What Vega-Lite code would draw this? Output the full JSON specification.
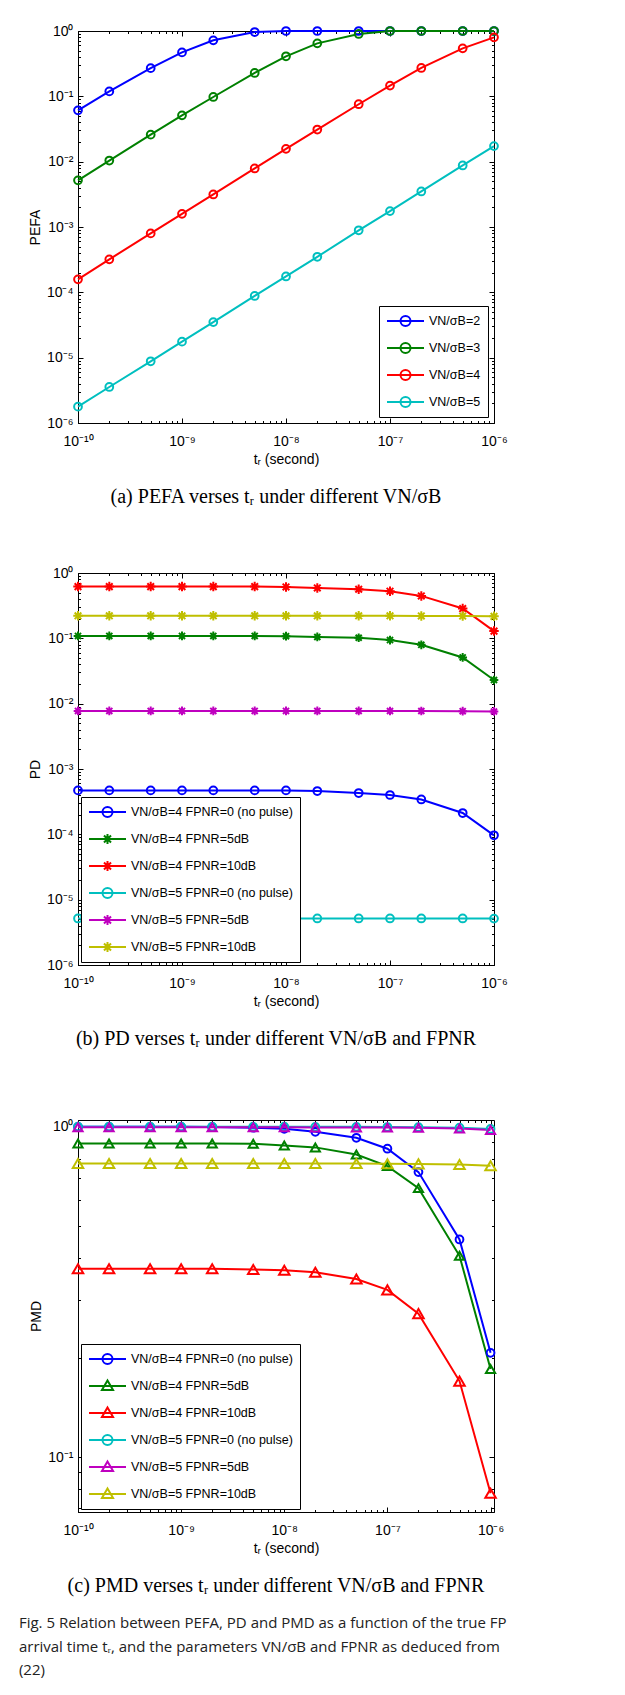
{
"$schema": "https://vega.github.io/schema/vega-lite/v6.json",
"padding": {"left": 18, "top": 22, "right": 5, "bottom": 5},
"spacing": 57,
"resolve": {"scale": {"x": "independent", "y": "independent", "color": "independent", "shape": "independent", "size": "independent"}},
"title": {"text": ["Fig. 5 Relation between PEFA, PD and PMD as a function of the true FP", "arrival time tᵣ, and the parameters VN/σB and FPNR as deduced from", "(22)"], "orient": "bottom", "anchor": "start", "frame": "bounds", "dx": -9, "offset": 19.5, "font": "Open Sans", "fontSize": 15, "fontWeight": "normal", "lineHeight": 23.5, "color": "#222222"},
"datasets": {
"a": [
{"t":1e-10,"p":0.061,"series":"VN/σB=2"},{"t":2e-10,"p":0.119,"series":"VN/σB=2"},{"t":5e-10,"p":0.27,"series":"VN/σB=2"},{"t":1e-9,"p":0.47,"series":"VN/σB=2"},{"t":2e-9,"p":0.72,"series":"VN/σB=2"},{"t":5e-9,"p":0.965,"series":"VN/σB=2"},{"t":1e-8,"p":1,"series":"VN/σB=2"},{"t":2e-8,"p":1,"series":"VN/σB=2"},{"t":5e-8,"p":1,"series":"VN/σB=2"},{"t":1e-7,"p":1,"series":"VN/σB=2"},{"t":2e-7,"p":1,"series":"VN/σB=2"},{"t":5e-7,"p":1,"series":"VN/σB=2"},{"t":1e-6,"p":1,"series":"VN/σB=2"},
{"t":1e-10,"p":0.00518,"series":"VN/σB=3"},{"t":2e-10,"p":0.0104,"series":"VN/σB=3"},{"t":5e-10,"p":0.0259,"series":"VN/σB=3"},{"t":1e-9,"p":0.0512,"series":"VN/σB=3"},{"t":2e-9,"p":0.0977,"series":"VN/σB=3"},{"t":5e-9,"p":0.228,"series":"VN/σB=3"},{"t":1e-8,"p":0.41,"series":"VN/σB=3"},{"t":2e-8,"p":0.647,"series":"VN/σB=3"},{"t":5e-8,"p":0.9,"series":"VN/σB=3"},{"t":1e-7,"p":1,"series":"VN/σB=3"},{"t":2e-7,"p":1,"series":"VN/σB=3"},{"t":5e-7,"p":1,"series":"VN/σB=3"},{"t":1e-6,"p":1,"series":"VN/σB=3"},
{"t":1e-10,"p":0.000158,"series":"VN/σB=4"},{"t":2e-10,"p":0.00032,"series":"VN/σB=4"},{"t":5e-10,"p":0.000798,"series":"VN/σB=4"},{"t":1e-9,"p":0.00159,"series":"VN/σB=4"},{"t":2e-9,"p":0.00315,"series":"VN/σB=4"},{"t":5e-9,"p":0.00787,"series":"VN/σB=4"},{"t":1e-8,"p":0.0157,"series":"VN/σB=4"},{"t":2e-8,"p":0.031,"series":"VN/σB=4"},{"t":5e-8,"p":0.0757,"series":"VN/σB=4"},{"t":1e-7,"p":0.146,"series":"VN/σB=4"},{"t":2e-7,"p":0.272,"series":"VN/σB=4"},{"t":5e-7,"p":0.543,"series":"VN/σB=4"},{"t":1e-6,"p":0.8,"series":"VN/σB=4"},
{"t":1e-10,"p":1.78e-6,"series":"VN/σB=5"},{"t":2e-10,"p":3.56e-6,"series":"VN/σB=5"},{"t":5e-10,"p":8.8e-6,"series":"VN/σB=5"},{"t":1e-9,"p":1.76e-5,"series":"VN/σB=5"},{"t":2e-9,"p":3.5e-5,"series":"VN/σB=5"},{"t":5e-9,"p":8.8e-5,"series":"VN/σB=5"},{"t":1e-8,"p":0.000175,"series":"VN/σB=5"},{"t":2e-8,"p":0.00035,"series":"VN/σB=5"},{"t":5e-8,"p":0.00089,"series":"VN/σB=5"},{"t":1e-7,"p":0.00175,"series":"VN/σB=5"},{"t":2e-7,"p":0.0035,"series":"VN/σB=5"},{"t":5e-7,"p":0.00875,"series":"VN/σB=5"},{"t":1e-6,"p":0.0173,"series":"VN/σB=5"}
],
"b": [
{"t":1e-10,"p":0.00047,"series":"VN/σB=4 FPNR=0 (no pulse)","fpnr":"0"},{"t":2e-10,"p":0.00047,"series":"VN/σB=4 FPNR=0 (no pulse)","fpnr":"0"},{"t":5e-10,"p":0.00047,"series":"VN/σB=4 FPNR=0 (no pulse)","fpnr":"0"},{"t":1e-9,"p":0.00047,"series":"VN/σB=4 FPNR=0 (no pulse)","fpnr":"0"},{"t":2e-9,"p":0.00047,"series":"VN/σB=4 FPNR=0 (no pulse)","fpnr":"0"},{"t":5e-9,"p":0.00047,"series":"VN/σB=4 FPNR=0 (no pulse)","fpnr":"0"},{"t":1e-8,"p":0.00047,"series":"VN/σB=4 FPNR=0 (no pulse)","fpnr":"0"},{"t":2e-8,"p":0.00046,"series":"VN/σB=4 FPNR=0 (no pulse)","fpnr":"0"},{"t":5e-8,"p":0.000429,"series":"VN/σB=4 FPNR=0 (no pulse)","fpnr":"0"},{"t":1e-7,"p":0.0004,"series":"VN/σB=4 FPNR=0 (no pulse)","fpnr":"0"},{"t":2e-7,"p":0.000342,"series":"VN/σB=4 FPNR=0 (no pulse)","fpnr":"0"},{"t":5e-7,"p":0.000212,"series":"VN/σB=4 FPNR=0 (no pulse)","fpnr":"0"},{"t":1e-6,"p":9.66e-5,"series":"VN/σB=4 FPNR=0 (no pulse)","fpnr":"0"},
{"t":1e-10,"p":0.109,"series":"VN/σB=4 FPNR=5dB","fpnr":"5dB"},{"t":2e-10,"p":0.109,"series":"VN/σB=4 FPNR=5dB","fpnr":"5dB"},{"t":5e-10,"p":0.109,"series":"VN/σB=4 FPNR=5dB","fpnr":"5dB"},{"t":1e-9,"p":0.109,"series":"VN/σB=4 FPNR=5dB","fpnr":"5dB"},{"t":2e-9,"p":0.109,"series":"VN/σB=4 FPNR=5dB","fpnr":"5dB"},{"t":5e-9,"p":0.109,"series":"VN/σB=4 FPNR=5dB","fpnr":"5dB"},{"t":1e-8,"p":0.108,"series":"VN/σB=4 FPNR=5dB","fpnr":"5dB"},{"t":2e-8,"p":0.105,"series":"VN/σB=4 FPNR=5dB","fpnr":"5dB"},{"t":5e-8,"p":0.102,"series":"VN/σB=4 FPNR=5dB","fpnr":"5dB"},{"t":1e-7,"p":0.094,"series":"VN/σB=4 FPNR=5dB","fpnr":"5dB"},{"t":2e-7,"p":0.0796,"series":"VN/σB=4 FPNR=5dB","fpnr":"5dB"},{"t":5e-7,"p":0.051,"series":"VN/σB=4 FPNR=5dB","fpnr":"5dB"},{"t":1e-6,"p":0.023,"series":"VN/σB=4 FPNR=5dB","fpnr":"5dB"},
{"t":1e-10,"p":0.619,"series":"VN/σB=4 FPNR=10dB","fpnr":"10dB"},{"t":2e-10,"p":0.619,"series":"VN/σB=4 FPNR=10dB","fpnr":"10dB"},{"t":5e-10,"p":0.619,"series":"VN/σB=4 FPNR=10dB","fpnr":"10dB"},{"t":1e-9,"p":0.619,"series":"VN/σB=4 FPNR=10dB","fpnr":"10dB"},{"t":2e-9,"p":0.619,"series":"VN/σB=4 FPNR=10dB","fpnr":"10dB"},{"t":5e-9,"p":0.619,"series":"VN/σB=4 FPNR=10dB","fpnr":"10dB"},{"t":1e-8,"p":0.611,"series":"VN/σB=4 FPNR=10dB","fpnr":"10dB"},{"t":2e-8,"p":0.59,"series":"VN/σB=4 FPNR=10dB","fpnr":"10dB"},{"t":5e-8,"p":0.564,"series":"VN/σB=4 FPNR=10dB","fpnr":"10dB"},{"t":1e-7,"p":0.526,"series":"VN/σB=4 FPNR=10dB","fpnr":"10dB"},{"t":2e-7,"p":0.446,"series":"VN/σB=4 FPNR=10dB","fpnr":"10dB"},{"t":5e-7,"p":0.286,"series":"VN/σB=4 FPNR=10dB","fpnr":"10dB"},{"t":1e-6,"p":0.129,"series":"VN/σB=4 FPNR=10dB","fpnr":"10dB"},
{"t":1e-10,"p":5.16e-6,"series":"VN/σB=5 FPNR=0 (no pulse)","fpnr":"0"},{"t":2e-10,"p":5.16e-6,"series":"VN/σB=5 FPNR=0 (no pulse)","fpnr":"0"},{"t":5e-10,"p":5.16e-6,"series":"VN/σB=5 FPNR=0 (no pulse)","fpnr":"0"},{"t":1e-9,"p":5.16e-6,"series":"VN/σB=5 FPNR=0 (no pulse)","fpnr":"0"},{"t":2e-9,"p":5.16e-6,"series":"VN/σB=5 FPNR=0 (no pulse)","fpnr":"0"},{"t":5e-9,"p":5.16e-6,"series":"VN/σB=5 FPNR=0 (no pulse)","fpnr":"0"},{"t":1e-8,"p":5.16e-6,"series":"VN/σB=5 FPNR=0 (no pulse)","fpnr":"0"},{"t":2e-8,"p":5.16e-6,"series":"VN/σB=5 FPNR=0 (no pulse)","fpnr":"0"},{"t":5e-8,"p":5.16e-6,"series":"VN/σB=5 FPNR=0 (no pulse)","fpnr":"0"},{"t":1e-7,"p":5.16e-6,"series":"VN/σB=5 FPNR=0 (no pulse)","fpnr":"0"},{"t":2e-7,"p":5.16e-6,"series":"VN/σB=5 FPNR=0 (no pulse)","fpnr":"0"},{"t":5e-7,"p":5.15e-6,"series":"VN/σB=5 FPNR=0 (no pulse)","fpnr":"0"},{"t":1e-6,"p":5.13e-6,"series":"VN/σB=5 FPNR=0 (no pulse)","fpnr":"0"},
{"t":1e-10,"p":0.00774,"series":"VN/σB=5 FPNR=5dB","fpnr":"5dB"},{"t":2e-10,"p":0.00774,"series":"VN/σB=5 FPNR=5dB","fpnr":"5dB"},{"t":5e-10,"p":0.00774,"series":"VN/σB=5 FPNR=5dB","fpnr":"5dB"},{"t":1e-9,"p":0.00774,"series":"VN/σB=5 FPNR=5dB","fpnr":"5dB"},{"t":2e-9,"p":0.00774,"series":"VN/σB=5 FPNR=5dB","fpnr":"5dB"},{"t":5e-9,"p":0.00774,"series":"VN/σB=5 FPNR=5dB","fpnr":"5dB"},{"t":1e-8,"p":0.00774,"series":"VN/σB=5 FPNR=5dB","fpnr":"5dB"},{"t":2e-8,"p":0.00774,"series":"VN/σB=5 FPNR=5dB","fpnr":"5dB"},{"t":5e-8,"p":0.00774,"series":"VN/σB=5 FPNR=5dB","fpnr":"5dB"},{"t":1e-7,"p":0.00773,"series":"VN/σB=5 FPNR=5dB","fpnr":"5dB"},{"t":2e-7,"p":0.00772,"series":"VN/σB=5 FPNR=5dB","fpnr":"5dB"},{"t":5e-7,"p":0.00768,"series":"VN/σB=5 FPNR=5dB","fpnr":"5dB"},{"t":1e-6,"p":0.0076,"series":"VN/σB=5 FPNR=5dB","fpnr":"5dB"},
{"t":1e-10,"p":0.221,"series":"VN/σB=5 FPNR=10dB","fpnr":"10dB"},{"t":2e-10,"p":0.221,"series":"VN/σB=5 FPNR=10dB","fpnr":"10dB"},{"t":5e-10,"p":0.221,"series":"VN/σB=5 FPNR=10dB","fpnr":"10dB"},{"t":1e-9,"p":0.221,"series":"VN/σB=5 FPNR=10dB","fpnr":"10dB"},{"t":2e-9,"p":0.221,"series":"VN/σB=5 FPNR=10dB","fpnr":"10dB"},{"t":5e-9,"p":0.221,"series":"VN/σB=5 FPNR=10dB","fpnr":"10dB"},{"t":1e-8,"p":0.221,"series":"VN/σB=5 FPNR=10dB","fpnr":"10dB"},{"t":2e-8,"p":0.221,"series":"VN/σB=5 FPNR=10dB","fpnr":"10dB"},{"t":5e-8,"p":0.221,"series":"VN/σB=5 FPNR=10dB","fpnr":"10dB"},{"t":1e-7,"p":0.221,"series":"VN/σB=5 FPNR=10dB","fpnr":"10dB"},{"t":2e-7,"p":0.22,"series":"VN/σB=5 FPNR=10dB","fpnr":"10dB"},{"t":5e-7,"p":0.219,"series":"VN/σB=5 FPNR=10dB","fpnr":"10dB"},{"t":1e-6,"p":0.217,"series":"VN/σB=5 FPNR=10dB","fpnr":"10dB"}
],
"c": [
{"t":1e-10,"p":0.999,"series":"VN/σB=4 FPNR=0 (no pulse)","fpnr":"0"},{"t":2e-10,"p":0.999,"series":"VN/σB=4 FPNR=0 (no pulse)","fpnr":"0"},{"t":5e-10,"p":0.999,"series":"VN/σB=4 FPNR=0 (no pulse)","fpnr":"0"},{"t":1e-9,"p":0.999,"series":"VN/σB=4 FPNR=0 (no pulse)","fpnr":"0"},{"t":2e-9,"p":0.998,"series":"VN/σB=4 FPNR=0 (no pulse)","fpnr":"0"},{"t":5e-9,"p":0.993,"series":"VN/σB=4 FPNR=0 (no pulse)","fpnr":"0"},{"t":1e-8,"p":0.986,"series":"VN/σB=4 FPNR=0 (no pulse)","fpnr":"0"},{"t":2e-8,"p":0.965,"series":"VN/σB=4 FPNR=0 (no pulse)","fpnr":"0"},{"t":5e-8,"p":0.926,"series":"VN/σB=4 FPNR=0 (no pulse)","fpnr":"0"},{"t":1e-7,"p":0.858,"series":"VN/σB=4 FPNR=0 (no pulse)","fpnr":"0"},{"t":2e-7,"p":0.729,"series":"VN/σB=4 FPNR=0 (no pulse)","fpnr":"0"},{"t":5e-7,"p":0.456,"series":"VN/σB=4 FPNR=0 (no pulse)","fpnr":"0"},{"t":1e-6,"p":0.207,"series":"VN/σB=4 FPNR=0 (no pulse)","fpnr":"0"},
{"t":1e-10,"p":0.89,"series":"VN/σB=4 FPNR=5dB","fpnr":"5dB"},{"t":2e-10,"p":0.89,"series":"VN/σB=4 FPNR=5dB","fpnr":"5dB"},{"t":5e-10,"p":0.89,"series":"VN/σB=4 FPNR=5dB","fpnr":"5dB"},{"t":1e-9,"p":0.89,"series":"VN/σB=4 FPNR=5dB","fpnr":"5dB"},{"t":2e-9,"p":0.89,"series":"VN/σB=4 FPNR=5dB","fpnr":"5dB"},{"t":5e-9,"p":0.888,"series":"VN/σB=4 FPNR=5dB","fpnr":"5dB"},{"t":1e-8,"p":0.878,"series":"VN/σB=4 FPNR=5dB","fpnr":"5dB"},{"t":2e-8,"p":0.866,"series":"VN/σB=4 FPNR=5dB","fpnr":"5dB"},{"t":5e-8,"p":0.824,"series":"VN/σB=4 FPNR=5dB","fpnr":"5dB"},{"t":1e-7,"p":0.76,"series":"VN/σB=4 FPNR=5dB","fpnr":"5dB"},{"t":2e-7,"p":0.652,"series":"VN/σB=4 FPNR=5dB","fpnr":"5dB"},{"t":5e-7,"p":0.407,"series":"VN/σB=4 FPNR=5dB","fpnr":"5dB"},{"t":1e-6,"p":0.185,"series":"VN/σB=4 FPNR=5dB","fpnr":"5dB"},
{"t":1e-10,"p":0.372,"series":"VN/σB=4 FPNR=10dB","fpnr":"10dB"},{"t":2e-10,"p":0.372,"series":"VN/σB=4 FPNR=10dB","fpnr":"10dB"},{"t":5e-10,"p":0.372,"series":"VN/σB=4 FPNR=10dB","fpnr":"10dB"},{"t":1e-9,"p":0.372,"series":"VN/σB=4 FPNR=10dB","fpnr":"10dB"},{"t":2e-9,"p":0.372,"series":"VN/σB=4 FPNR=10dB","fpnr":"10dB"},{"t":5e-9,"p":0.37,"series":"VN/σB=4 FPNR=10dB","fpnr":"10dB"},{"t":1e-8,"p":0.368,"series":"VN/σB=4 FPNR=10dB","fpnr":"10dB"},{"t":2e-8,"p":0.363,"series":"VN/σB=4 FPNR=10dB","fpnr":"10dB"},{"t":5e-8,"p":0.346,"series":"VN/σB=4 FPNR=10dB","fpnr":"10dB"},{"t":1e-7,"p":0.321,"series":"VN/σB=4 FPNR=10dB","fpnr":"10dB"},{"t":2e-7,"p":0.272,"series":"VN/σB=4 FPNR=10dB","fpnr":"10dB"},{"t":5e-7,"p":0.17,"series":"VN/σB=4 FPNR=10dB","fpnr":"10dB"},{"t":1e-6,"p":0.0778,"series":"VN/σB=4 FPNR=10dB","fpnr":"10dB"},
{"t":1e-10,"p":1.0,"series":"VN/σB=5 FPNR=0 (no pulse)","fpnr":"0"},{"t":2e-10,"p":1.0,"series":"VN/σB=5 FPNR=0 (no pulse)","fpnr":"0"},{"t":5e-10,"p":1.0,"series":"VN/σB=5 FPNR=0 (no pulse)","fpnr":"0"},{"t":1e-9,"p":1.0,"series":"VN/σB=5 FPNR=0 (no pulse)","fpnr":"0"},{"t":2e-9,"p":1.0,"series":"VN/σB=5 FPNR=0 (no pulse)","fpnr":"0"},{"t":5e-9,"p":1.0,"series":"VN/σB=5 FPNR=0 (no pulse)","fpnr":"0"},{"t":1e-8,"p":1.0,"series":"VN/σB=5 FPNR=0 (no pulse)","fpnr":"0"},{"t":2e-8,"p":0.999,"series":"VN/σB=5 FPNR=0 (no pulse)","fpnr":"0"},{"t":5e-8,"p":0.999,"series":"VN/σB=5 FPNR=0 (no pulse)","fpnr":"0"},{"t":1e-7,"p":0.998,"series":"VN/σB=5 FPNR=0 (no pulse)","fpnr":"0"},{"t":2e-7,"p":0.997,"series":"VN/σB=5 FPNR=0 (no pulse)","fpnr":"0"},{"t":5e-7,"p":0.993,"series":"VN/σB=5 FPNR=0 (no pulse)","fpnr":"0"},{"t":1e-6,"p":0.985,"series":"VN/σB=5 FPNR=0 (no pulse)","fpnr":"0"},
{"t":1e-10,"p":0.996,"series":"VN/σB=5 FPNR=5dB","fpnr":"5dB"},{"t":2e-10,"p":0.996,"series":"VN/σB=5 FPNR=5dB","fpnr":"5dB"},{"t":5e-10,"p":0.996,"series":"VN/σB=5 FPNR=5dB","fpnr":"5dB"},{"t":1e-9,"p":0.996,"series":"VN/σB=5 FPNR=5dB","fpnr":"5dB"},{"t":2e-9,"p":0.996,"series":"VN/σB=5 FPNR=5dB","fpnr":"5dB"},{"t":5e-9,"p":0.996,"series":"VN/σB=5 FPNR=5dB","fpnr":"5dB"},{"t":1e-8,"p":0.996,"series":"VN/σB=5 FPNR=5dB","fpnr":"5dB"},{"t":2e-8,"p":0.995,"series":"VN/σB=5 FPNR=5dB","fpnr":"5dB"},{"t":5e-8,"p":0.995,"series":"VN/σB=5 FPNR=5dB","fpnr":"5dB"},{"t":1e-7,"p":0.994,"series":"VN/σB=5 FPNR=5dB","fpnr":"5dB"},{"t":2e-7,"p":0.993,"series":"VN/σB=5 FPNR=5dB","fpnr":"5dB"},{"t":5e-7,"p":0.988,"series":"VN/σB=5 FPNR=5dB","fpnr":"5dB"},{"t":1e-6,"p":0.977,"series":"VN/σB=5 FPNR=5dB","fpnr":"5dB"},
{"t":1e-10,"p":0.774,"series":"VN/σB=5 FPNR=10dB","fpnr":"10dB"},{"t":2e-10,"p":0.774,"series":"VN/σB=5 FPNR=10dB","fpnr":"10dB"},{"t":5e-10,"p":0.774,"series":"VN/σB=5 FPNR=10dB","fpnr":"10dB"},{"t":1e-9,"p":0.774,"series":"VN/σB=5 FPNR=10dB","fpnr":"10dB"},{"t":2e-9,"p":0.774,"series":"VN/σB=5 FPNR=10dB","fpnr":"10dB"},{"t":5e-9,"p":0.774,"series":"VN/σB=5 FPNR=10dB","fpnr":"10dB"},{"t":1e-8,"p":0.774,"series":"VN/σB=5 FPNR=10dB","fpnr":"10dB"},{"t":2e-8,"p":0.774,"series":"VN/σB=5 FPNR=10dB","fpnr":"10dB"},{"t":5e-8,"p":0.774,"series":"VN/σB=5 FPNR=10dB","fpnr":"10dB"},{"t":1e-7,"p":0.773,"series":"VN/σB=5 FPNR=10dB","fpnr":"10dB"},{"t":2e-7,"p":0.772,"series":"VN/σB=5 FPNR=10dB","fpnr":"10dB"},{"t":5e-7,"p":0.769,"series":"VN/σB=5 FPNR=10dB","fpnr":"10dB"},{"t":1e-6,"p":0.762,"series":"VN/σB=5 FPNR=10dB","fpnr":"10dB"}
]
},
"vconcat": [
{
"width": 416, "height": 392,
"data": {"name": "a"},
"title": {"text": "(a) PEFA verses tᵣ under different VN/σB", "orient": "bottom", "anchor": "middle", "offset": 21, "dx": -10},
"resolve": {"axis": {"x": "independent", "y": "independent"}},
"layer": [
{"mark": {"type": "line", "strokeWidth": 2},
 "encoding": {
  "x": {"field": "t", "type": "quantitative", "scale": {"type": "log", "domain": [1e-10, 1e-6], "nice": false}, "axis": {"orient": "bottom", "values": [1e-10,1e-9,1e-8,1e-7,1e-6], "labelExpr": "'10' + ['⁰','⁻¹','⁻²','⁻³','⁻⁴','⁻⁵','⁻⁶','⁻⁷','⁻⁸','⁻⁹','⁻¹⁰'][round(-log(datum.value)/LN10)]", "tickSize": -5, "labelPadding": 16, "title": "tᵣ (second)", "titlePadding": 4}},
  "y": {"field": "p", "type": "quantitative", "scale": {"type": "log", "domain": [1e-6, 1], "nice": false}, "axis": {"orient": "left", "values": [1e-6,1e-5,1e-4,1e-3,1e-2,1e-1,1], "labelExpr": "'10' + ['⁰','⁻¹','⁻²','⁻³','⁻⁴','⁻⁵','⁻⁶','⁻⁷','⁻⁸','⁻⁹','⁻¹⁰'][round(-log(datum.value)/LN10)]", "tickSize": -5, "labelPadding": 10, "title": "PEFA", "titlePadding": 4}},
  "color": {"field": "series", "type": "nominal", "sort": null, "scale": {"domain": ["VN/σB=2","VN/σB=3","VN/σB=4","VN/σB=5"], "range": ["#0000FF","#008000","#FF0000","#00BFBF"]},
   "legend": {"title": null, "orient": "bottom-right", "offset": 6, "strokeColor": "black", "fillColor": "white", "padding": 7, "labelFont": "Liberation Sans", "labelFontSize": 12.5, "labelColor": "black", "labelLimit": 0, "labelOffset": 4, "rowPadding": 11, "clipHeight": 16, "symbolSize": 1369, "symbolStrokeWidth": 2, "symbolType": "M-1,0L1,0M0.27,0A0.27,0.27,0,1,1,-0.27,0A0.27,0.27,0,1,1,0.27,0",
    "encode": {"symbols": {"update": {"fill": {"value": "transparent"}, "strokeWidth": {"value": 2}}}}}}
 }},
{"mark": {"type": "point", "shape": "circle", "filled": false, "strokeWidth": 2, "size": 60, "opacity": 1},
 "encoding": {
  "x": {"field": "t", "type": "quantitative", "scale": {"type": "log", "domain": [1e-10, 1e-6], "nice": false}, "axis": {"orient": "bottom", "values": [2e-10,3e-10,4e-10,5e-10,6e-10,7e-10,8e-10,9e-10,2e-9,3e-9,4e-9,5e-9,6e-9,7e-9,8e-9,9e-9,2e-8,3e-8,4e-8,5e-8,6e-8,7e-8,8e-8,9e-8,2e-7,3e-7,4e-7,5e-7,6e-7,7e-7,8e-7,9e-7], "labels": false, "domain": false, "tickSize": -2.5, "title": null}},
  "y": {"field": "p", "type": "quantitative", "scale": {"type": "log", "domain": [1e-6, 1], "nice": false}, "axis": {"orient": "left", "values": [2e-6,3e-6,4e-6,5e-6,6e-6,7e-6,8e-6,9e-6,2e-5,3e-5,4e-5,5e-5,6e-5,7e-5,8e-5,9e-5,2e-4,3e-4,4e-4,5e-4,6e-4,7e-4,8e-4,9e-4,2e-3,3e-3,4e-3,5e-3,6e-3,7e-3,8e-3,9e-3,2e-2,3e-2,4e-2,5e-2,6e-2,7e-2,8e-2,9e-2,0.2,0.3,0.4,0.5,0.6,0.7,0.8,0.9], "labels": false, "domain": false, "tickSize": -2.5, "title": null}},
  "color": {"field": "series", "type": "nominal", "sort": null, "legend": null}
 }},
{"mark": {"type": "line", "opacity": 0},
 "encoding": {
  "x": {"field": "t", "type": "quantitative", "scale": {"type": "log", "domain": [1e-10, 1e-6], "nice": false}, "axis": {"orient": "top", "values": [1e-10,1e-9,1e-8,1e-7,1e-6], "labels": false, "domain": false, "tickSize": -5, "title": null}},
  "y": {"field": "p", "type": "quantitative", "scale": {"type": "log", "domain": [1e-6, 1], "nice": false}, "axis": {"orient": "right", "values": [1e-6,1e-5,1e-4,1e-3,1e-2,1e-1,1], "labels": false, "domain": false, "tickSize": -5, "title": null}},
  "detail": {"field": "series"}
 }},
{"mark": {"type": "line", "opacity": 0},
 "encoding": {
  "x": {"field": "t", "type": "quantitative", "scale": {"type": "log", "domain": [1e-10, 1e-6], "nice": false}, "axis": {"orient": "top", "values": [2e-10,3e-10,4e-10,5e-10,6e-10,7e-10,8e-10,9e-10,2e-9,3e-9,4e-9,5e-9,6e-9,7e-9,8e-9,9e-9,2e-8,3e-8,4e-8,5e-8,6e-8,7e-8,8e-8,9e-8,2e-7,3e-7,4e-7,5e-7,6e-7,7e-7,8e-7,9e-7], "labels": false, "domain": false, "tickSize": -2.5, "title": null}},
  "y": {"field": "p", "type": "quantitative", "scale": {"type": "log", "domain": [1e-6, 1], "nice": false}, "axis": {"orient": "right", "values": [2e-6,3e-6,4e-6,5e-6,6e-6,7e-6,8e-6,9e-6,2e-5,3e-5,4e-5,5e-5,6e-5,7e-5,8e-5,9e-5,2e-4,3e-4,4e-4,5e-4,6e-4,7e-4,8e-4,9e-4,2e-3,3e-3,4e-3,5e-3,6e-3,7e-3,8e-3,9e-3,2e-2,3e-2,4e-2,5e-2,6e-2,7e-2,8e-2,9e-2,0.2,0.3,0.4,0.5,0.6,0.7,0.8,0.9], "labels": false, "domain": false, "tickSize": -2.5, "title": null}},
  "detail": {"field": "series"}
 }}
]
},
{
"width": 416, "height": 392,
"data": {"name": "b"},
"title": {"text": "(b) PD verses tᵣ under different VN/σB and FPNR", "orient": "bottom", "anchor": "middle", "offset": 21, "dx": -10},
"resolve": {"axis": {"x": "independent", "y": "independent"}},
"layer": [
{"mark": {"type": "line", "strokeWidth": 2},
 "encoding": {
  "x": {"field": "t", "type": "quantitative", "scale": {"type": "log", "domain": [1e-10, 1e-6], "nice": false}, "axis": {"orient": "bottom", "values": [1e-10,1e-9,1e-8,1e-7,1e-6], "labelExpr": "'10' + ['⁰','⁻¹','⁻²','⁻³','⁻⁴','⁻⁵','⁻⁶','⁻⁷','⁻⁸','⁻⁹','⁻¹⁰'][round(-log(datum.value)/LN10)]", "tickSize": -5, "labelPadding": 16, "title": "tᵣ (second)", "titlePadding": 4}},
  "y": {"field": "p", "type": "quantitative", "scale": {"type": "log", "domain": [1e-6, 1], "nice": false}, "axis": {"orient": "left", "values": [1e-6,1e-5,1e-4,1e-3,1e-2,1e-1,1], "labelExpr": "'10' + ['⁰','⁻¹','⁻²','⁻³','⁻⁴','⁻⁵','⁻⁶','⁻⁷','⁻⁸','⁻⁹','⁻¹⁰'][round(-log(datum.value)/LN10)]", "tickSize": -5, "labelPadding": 10, "title": "PD", "titlePadding": 4}},
  "color": {"field": "series", "type": "nominal", "sort": null, "scale": {"domain": ["VN/σB=4 FPNR=0 (no pulse)","VN/σB=4 FPNR=5dB","VN/σB=4 FPNR=10dB","VN/σB=5 FPNR=0 (no pulse)","VN/σB=5 FPNR=5dB","VN/σB=5 FPNR=10dB"], "range": ["#0000FF","#008000","#FF0000","#00BFBF","#BF00BF","#BFBF00"]},
   "legend": {"title": null, "orient": "bottom-left", "offset": 3, "strokeColor": "black", "fillColor": "white", "padding": 7, "labelFont": "Liberation Sans", "labelFontSize": 12.5, "labelColor": "black", "labelLimit": 0, "labelOffset": 4, "rowPadding": 11, "clipHeight": 16, "symbolSize": 1369, "symbolStrokeWidth": 2, "symbolType": "M-1,0L1,0M0.27,0A0.27,0.27,0,1,1,-0.27,0A0.27,0.27,0,1,1,0.27,0",
    "encode": {"symbols": {"update": {"fill": {"value": "transparent"}, "strokeWidth": {"value": 2}, "shape": {"signal": "indexof(datum.value, 'no pulse') >= 0 ? 'M-1,0L1,0M0.27,0A0.27,0.27,0,1,1,-0.27,0A0.27,0.27,0,1,1,0.27,0' : 'M-1,0L1,0M0,-0.27L0,0.27M-0.27,0L0.27,0M-0.19,-0.19L0.19,0.19M-0.19,0.19L0.19,-0.19'"}}}}}}
 }},
{"mark": {"type": "point", "filled": false, "strokeWidth": 2, "opacity": 1},
 "encoding": {
  "x": {"field": "t", "type": "quantitative", "scale": {"type": "log", "domain": [1e-10, 1e-6], "nice": false}, "axis": {"orient": "bottom", "values": [2e-10,3e-10,4e-10,5e-10,6e-10,7e-10,8e-10,9e-10,2e-9,3e-9,4e-9,5e-9,6e-9,7e-9,8e-9,9e-9,2e-8,3e-8,4e-8,5e-8,6e-8,7e-8,8e-8,9e-8,2e-7,3e-7,4e-7,5e-7,6e-7,7e-7,8e-7,9e-7], "labels": false, "domain": false, "tickSize": -2.5, "title": null}},
  "y": {"field": "p", "type": "quantitative", "scale": {"type": "log", "domain": [1e-6, 1], "nice": false}, "axis": {"orient": "left", "values": [2e-6,3e-6,4e-6,5e-6,6e-6,7e-6,8e-6,9e-6,2e-5,3e-5,4e-5,5e-5,6e-5,7e-5,8e-5,9e-5,2e-4,3e-4,4e-4,5e-4,6e-4,7e-4,8e-4,9e-4,2e-3,3e-3,4e-3,5e-3,6e-3,7e-3,8e-3,9e-3,2e-2,3e-2,4e-2,5e-2,6e-2,7e-2,8e-2,9e-2,0.2,0.3,0.4,0.5,0.6,0.7,0.8,0.9], "labels": false, "domain": false, "tickSize": -2.5, "title": null}},
  "color": {"field": "series", "type": "nominal", "sort": null, "legend": null},
  "shape": {"field": "fpnr", "type": "nominal", "scale": {"domain": ["0","5dB","10dB"], "range": ["circle", "M0,-1L0,1M-1,0L1,0M-0.7,-0.7L0.7,0.7M-0.7,0.7L0.7,-0.7", "M0,-1L0,1M-1,0L1,0M-0.7,-0.7L0.7,0.7M-0.7,0.7L0.7,-0.7"]}, "legend": null},
  "size": {"field": "fpnr", "type": "nominal", "scale": {"domain": ["0","5dB","10dB"], "range": [60, 90, 90]}, "legend": null}
 }},
{"mark": {"type": "line", "opacity": 0},
 "encoding": {
  "x": {"field": "t", "type": "quantitative", "scale": {"type": "log", "domain": [1e-10, 1e-6], "nice": false}, "axis": {"orient": "top", "values": [1e-10,1e-9,1e-8,1e-7,1e-6], "labels": false, "domain": false, "tickSize": -5, "title": null}},
  "y": {"field": "p", "type": "quantitative", "scale": {"type": "log", "domain": [1e-6, 1], "nice": false}, "axis": {"orient": "right", "values": [1e-6,1e-5,1e-4,1e-3,1e-2,1e-1,1], "labels": false, "domain": false, "tickSize": -5, "title": null}},
  "detail": {"field": "series"}
 }},
{"mark": {"type": "line", "opacity": 0},
 "encoding": {
  "x": {"field": "t", "type": "quantitative", "scale": {"type": "log", "domain": [1e-10, 1e-6], "nice": false}, "axis": {"orient": "top", "values": [2e-10,3e-10,4e-10,5e-10,6e-10,7e-10,8e-10,9e-10,2e-9,3e-9,4e-9,5e-9,6e-9,7e-9,8e-9,9e-9,2e-8,3e-8,4e-8,5e-8,6e-8,7e-8,8e-8,9e-8,2e-7,3e-7,4e-7,5e-7,6e-7,7e-7,8e-7,9e-7], "labels": false, "domain": false, "tickSize": -2.5, "title": null}},
  "y": {"field": "p", "type": "quantitative", "scale": {"type": "log", "domain": [1e-6, 1], "nice": false}, "axis": {"orient": "right", "values": [2e-6,3e-6,4e-6,5e-6,6e-6,7e-6,8e-6,9e-6,2e-5,3e-5,4e-5,5e-5,6e-5,7e-5,8e-5,9e-5,2e-4,3e-4,4e-4,5e-4,6e-4,7e-4,8e-4,9e-4,2e-3,3e-3,4e-3,5e-3,6e-3,7e-3,8e-3,9e-3,2e-2,3e-2,4e-2,5e-2,6e-2,7e-2,8e-2,9e-2,0.2,0.3,0.4,0.5,0.6,0.7,0.8,0.9], "labels": false, "domain": false, "tickSize": -2.5, "title": null}},
  "detail": {"field": "series"}
 }}
]
},
{
"width": 416, "height": 392,
"data": {"name": "c"},
"title": {"text": "(c) PMD verses tᵣ under different VN/σB and FPNR", "orient": "bottom", "anchor": "middle", "offset": 21, "dx": -10},
"resolve": {"axis": {"x": "independent", "y": "independent"}},
"layer": [
{"mark": {"type": "line", "strokeWidth": 2},
 "encoding": {
  "x": {"field": "t", "type": "quantitative", "scale": {"type": "log", "domain": [1e-10, 1.08e-6], "nice": false}, "axis": {"orient": "bottom", "values": [1e-10,1e-9,1e-8,1e-7,1e-6], "labelExpr": "'10' + ['⁰','⁻¹','⁻²','⁻³','⁻⁴','⁻⁵','⁻⁶','⁻⁷','⁻⁸','⁻⁹','⁻¹⁰'][round(-log(datum.value)/LN10)]", "tickSize": -5, "labelPadding": 16, "title": "tᵣ (second)", "titlePadding": 4}},
  "y": {"field": "p", "type": "quantitative", "scale": {"type": "log", "domain": [0.0683, 1.048], "nice": false}, "axis": {"orient": "left", "values": [0.1, 1], "labelExpr": "'10' + ['⁰','⁻¹','⁻²','⁻³','⁻⁴','⁻⁵','⁻⁶','⁻⁷','⁻⁸','⁻⁹','⁻¹⁰'][round(-log(datum.value)/LN10)]", "tickSize": -5, "labelPadding": 10, "title": "PMD", "titlePadding": 4}},
  "color": {"field": "series", "type": "nominal", "sort": null, "scale": {"domain": ["VN/σB=4 FPNR=0 (no pulse)","VN/σB=4 FPNR=5dB","VN/σB=4 FPNR=10dB","VN/σB=5 FPNR=0 (no pulse)","VN/σB=5 FPNR=5dB","VN/σB=5 FPNR=10dB"], "range": ["#0000FF","#008000","#FF0000","#00BFBF","#BF00BF","#BFBF00"]},
   "legend": {"title": null, "orient": "bottom-left", "offset": 3, "strokeColor": "black", "fillColor": "white", "padding": 7, "labelFont": "Liberation Sans", "labelFontSize": 12.5, "labelColor": "black", "labelLimit": 0, "labelOffset": 4, "rowPadding": 11, "clipHeight": 16, "symbolSize": 1369, "symbolStrokeWidth": 2, "symbolType": "M-1,0L1,0M0.27,0A0.27,0.27,0,1,1,-0.27,0A0.27,0.27,0,1,1,0.27,0",
    "encode": {"symbols": {"update": {"fill": {"value": "transparent"}, "strokeWidth": {"value": 2}, "shape": {"signal": "indexof(datum.value, 'no pulse') >= 0 ? 'M-1,0L1,0M0.27,0A0.27,0.27,0,1,1,-0.27,0A0.27,0.27,0,1,1,0.27,0' : 'M-1,0L1,0M0,-0.3L0.3,0.22L-0.3,0.22Z'"}}}}}}
 }},
{"mark": {"type": "point", "filled": false, "strokeWidth": 2, "opacity": 1},
 "encoding": {
  "x": {"field": "t", "type": "quantitative", "scale": {"type": "log", "domain": [1e-10, 1.08e-6], "nice": false}, "axis": {"orient": "bottom", "values": [2e-10,3e-10,4e-10,5e-10,6e-10,7e-10,8e-10,9e-10,2e-9,3e-9,4e-9,5e-9,6e-9,7e-9,8e-9,9e-9,2e-8,3e-8,4e-8,5e-8,6e-8,7e-8,8e-8,9e-8,2e-7,3e-7,4e-7,5e-7,6e-7,7e-7,8e-7,9e-7], "labels": false, "domain": false, "tickSize": -2.5, "title": null}},
  "y": {"field": "p", "type": "quantitative", "scale": {"type": "log", "domain": [0.0683, 1.048], "nice": false}, "axis": {"orient": "left", "values": [0.07,0.08,0.09,0.2,0.3,0.4,0.5,0.6,0.7,0.8,0.9], "labels": false, "domain": false, "tickSize": -2.5, "title": null}},
  "color": {"field": "series", "type": "nominal", "sort": null, "legend": null},
  "shape": {"field": "fpnr", "type": "nominal", "scale": {"domain": ["0","5dB","10dB"], "range": ["circle", "triangle-up", "triangle-up"]}, "legend": null},
  "size": {"field": "fpnr", "type": "nominal", "scale": {"domain": ["0","5dB","10dB"], "range": [60, 110, 110]}, "legend": null}
 }},
{"mark": {"type": "line", "opacity": 0},
 "encoding": {
  "x": {"field": "t", "type": "quantitative", "scale": {"type": "log", "domain": [1e-10, 1.08e-6], "nice": false}, "axis": {"orient": "top", "values": [1e-10,1e-9,1e-8,1e-7,1e-6], "labels": false, "domain": false, "tickSize": -5, "title": " ", "titleFontSize": 6, "titlePadding": 6}},
  "y": {"field": "p", "type": "quantitative", "scale": {"type": "log", "domain": [0.0683, 1.048], "nice": false}, "axis": {"orient": "right", "values": [0.1, 1], "labels": false, "domain": false, "tickSize": -5, "title": null}},
  "detail": {"field": "series"}
 }},
{"mark": {"type": "line", "opacity": 0},
 "encoding": {
  "x": {"field": "t", "type": "quantitative", "scale": {"type": "log", "domain": [1e-10, 1.08e-6], "nice": false}, "axis": {"orient": "top", "values": [2e-10,3e-10,4e-10,5e-10,6e-10,7e-10,8e-10,9e-10,2e-9,3e-9,4e-9,5e-9,6e-9,7e-9,8e-9,9e-9,2e-8,3e-8,4e-8,5e-8,6e-8,7e-8,8e-8,9e-8,2e-7,3e-7,4e-7,5e-7,6e-7,7e-7,8e-7,9e-7], "labels": false, "domain": false, "tickSize": -2.5, "title": null}},
  "y": {"field": "p", "type": "quantitative", "scale": {"type": "log", "domain": [0.0683, 1.048], "nice": false}, "axis": {"orient": "right", "values": [0.07,0.08,0.09,0.2,0.3,0.4,0.5,0.6,0.7,0.8,0.9], "labels": false, "domain": false, "tickSize": -2.5, "title": null}},
  "detail": {"field": "series"}
 }}
]
}
],
"config": {
 "background": "white",
 "view": {"stroke": "black", "strokeWidth": 1},
 "axis": {"grid": false, "labelFont": "Liberation Sans", "labelFontSize": 14, "labelColor": "black", "titleFont": "Liberation Sans", "titleFontSize": 14, "titleFontWeight": "normal", "titleColor": "black", "domainColor": "black", "tickColor": "black", "tickWidth": 1, "labelFlush": false, "labelOverlap": false, "labelBound": false},
 "title": {"font": "Liberation Serif", "fontSize": 20, "fontWeight": "normal", "color": "black"}
}
}
